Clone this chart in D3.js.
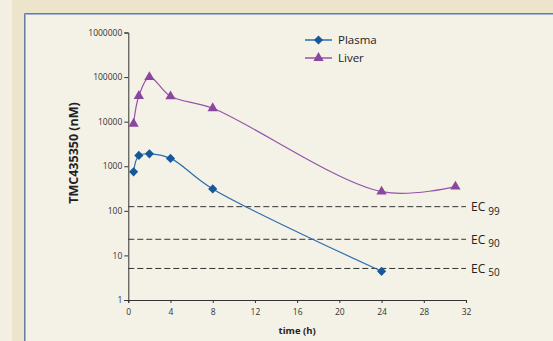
<!DOCTYPE html>
<html>
<head>
<meta charset="utf-8">
<script src="https://cdn.jsdelivr.net/npm/d3@7"></script>
<style>
  html, body { margin: 0; padding: 0; }
  body { width: 553px; height: 341px; overflow: hidden; background: #f3f0e3; }
  text { font-family: "Open Sans", sans-serif; }
</style>
</head>
<body>
<div id="chart"></div>
<script>
// time points (h) and concentrations (nM)
const plasmaTime = [0.5, 1, 2, 4, 8, 24];
const plasmaConc = [750, 1750, 1900, 1500, 310, 4.4];
const liverTime = [0.5, 1, 2, 4, 8, 24, 31];
const liverConc = [9000, 37500, 100000, 37000, 20000, 270, 350];

// effective concentration thresholds
const ecLabels = ["99", "90", "50"];
const ecValues = [124, 23, 5.1];

const xTicks = [0, 4, 8, 12, 16, 20, 24, 28, 32];
const yTicks = [1, 10, 100, 1000, 10000, 100000, 1000000];

const width = 553, height = 341;

const svg = d3.select("#chart")
  .append("svg")
  .attr("width", width)
  .attr("height", height);

// page background and panel
svg.append("rect").attr("x", 12).attr("y", 0).attr("width", width - 12).attr("height", height).attr("fill", "#ede5cb");
svg.append("rect").attr("x", 24).attr("y", 13).attr("width", width).attr("height", height).attr("fill", "#f4f1e6");
svg.append("path").attr("d", `M24.5,${height}V13.5H${width}`).attr("fill", "none").attr("stroke", "#677ba3");
svg.append("path").attr("d", `M25.5,${height}V14.5H${width}`).attr("fill", "none").attr("stroke", "#9fb1d4");

const x = d3.scaleLinear().domain([0, 32]).range([128.3, 466]);
const y = d3.scaleLog().domain([1, 1000000]).range([300, 32.5]);

// axes
const xAxis = svg.append("g")
  .attr("transform", `translate(0,${y(1)})`)
  .call(d3.axisBottom(x).tickValues(xTicks).tickSize(3).tickPadding(6));
const yAxis = svg.append("g")
  .attr("transform", `translate(${x(0)},0)`)
  .call(d3.axisLeft(y).tickValues(yTicks).tickFormat(d3.format("d")).tickSize(4).tickPadding(2));

[xAxis, yAxis].forEach(a => {
  a.select(".domain").attr("stroke", "#333");
  a.selectAll(".tick line").attr("stroke", "#333");
  a.selectAll(".tick text")
    .attr("fill", "#333")
    .style("font-size", "8.5px")
    .style("font-family", "'Open Sans', sans-serif");
});

svg.append("text")
  .attr("x", (x(0) + x(32)) / 2)
  .attr("y", 334)
  .attr("text-anchor", "middle")
  .attr("fill", "#222")
  .style("font-size", "9.5px")
  .style("font-weight", "bold")
  .text("time (h)");

svg.append("text")
  .attr("transform", "translate(78,153) rotate(-90)")
  .attr("text-anchor", "middle")
  .attr("fill", "#222")
  .style("font-size", "12.5px")
  .style("font-weight", "bold")
  .text("TMC435350 (nM)");

// EC threshold lines
ecValues.forEach((v, i) => {
  svg.append("line")
    .attr("x1", x(0)).attr("x2", x(32))
    .attr("y1", y(v)).attr("y2", y(v))
    .attr("stroke", "#333")
    .attr("stroke-width", 1)
    .attr("stroke-dasharray", "6,3");
  const t = svg.append("text")
    .attr("x", x(32) + 5)
    .attr("y", y(v) + 4.5)
    .attr("fill", "#222")
    .style("font-size", "12px");
  t.append("tspan").text("EC ");
  t.append("tspan").attr("dy", 3.5).style("font-size", "10px").text(ecLabels[i]);
});

// series, smoothed like the original spreadsheet lines
const line = d3.line()
  .x(d => x(d[0]))
  .y(d => y(d[1]))
  .curve(d3.curveCatmullRom.alpha(0.5));

const series = [
  { name: "Plasma", time: plasmaTime, conc: plasmaConc, line: "#2b6db0", fill: "#185899",
    symbol: d3.symbol().type(d3.symbolSquare).size(42), rotate: 45 },
  { name: "Liver", time: liverTime, conc: liverConc, line: "#9454a9", fill: "#8b479f",
    symbol: d3.symbol().type(d3.symbolTriangle).size(46), rotate: 0 }
];

series.forEach(s => {
  const pts = s.time.map((t, i) => [t, s.conc[i]]);
  svg.append("path")
    .datum(pts)
    .attr("fill", "none")
    .attr("stroke", s.line)
    .attr("stroke-width", 1.2)
    .attr("d", line);
  svg.selectAll(null)
    .data(pts)
    .enter()
    .append("path")
    .attr("d", s.symbol)
    .attr("fill", s.fill)
    .attr("transform", d => `translate(${x(d[0])},${y(d[1])}) rotate(${s.rotate})`);
});

// legend
const legend = svg.append("g").attr("transform", "translate(305,40)");
series.forEach((s, i) => {
  const g = legend.append("g").attr("transform", `translate(0,${i * 18})`);
  g.append("line").attr("x1", 0).attr("x2", 27).attr("stroke", s.line).attr("stroke-width", 1.5);
  g.append("path").attr("d", s.symbol).attr("fill", s.fill)
    .attr("transform", `translate(13.5,0) rotate(${s.rotate})`);
  g.append("text")
    .attr("x", 33)
    .attr("y", 4)
    .attr("fill", "#222")
    .style("font-size", "11.5px")
    .text(s.name);
});
</script>
</body>
</html>
